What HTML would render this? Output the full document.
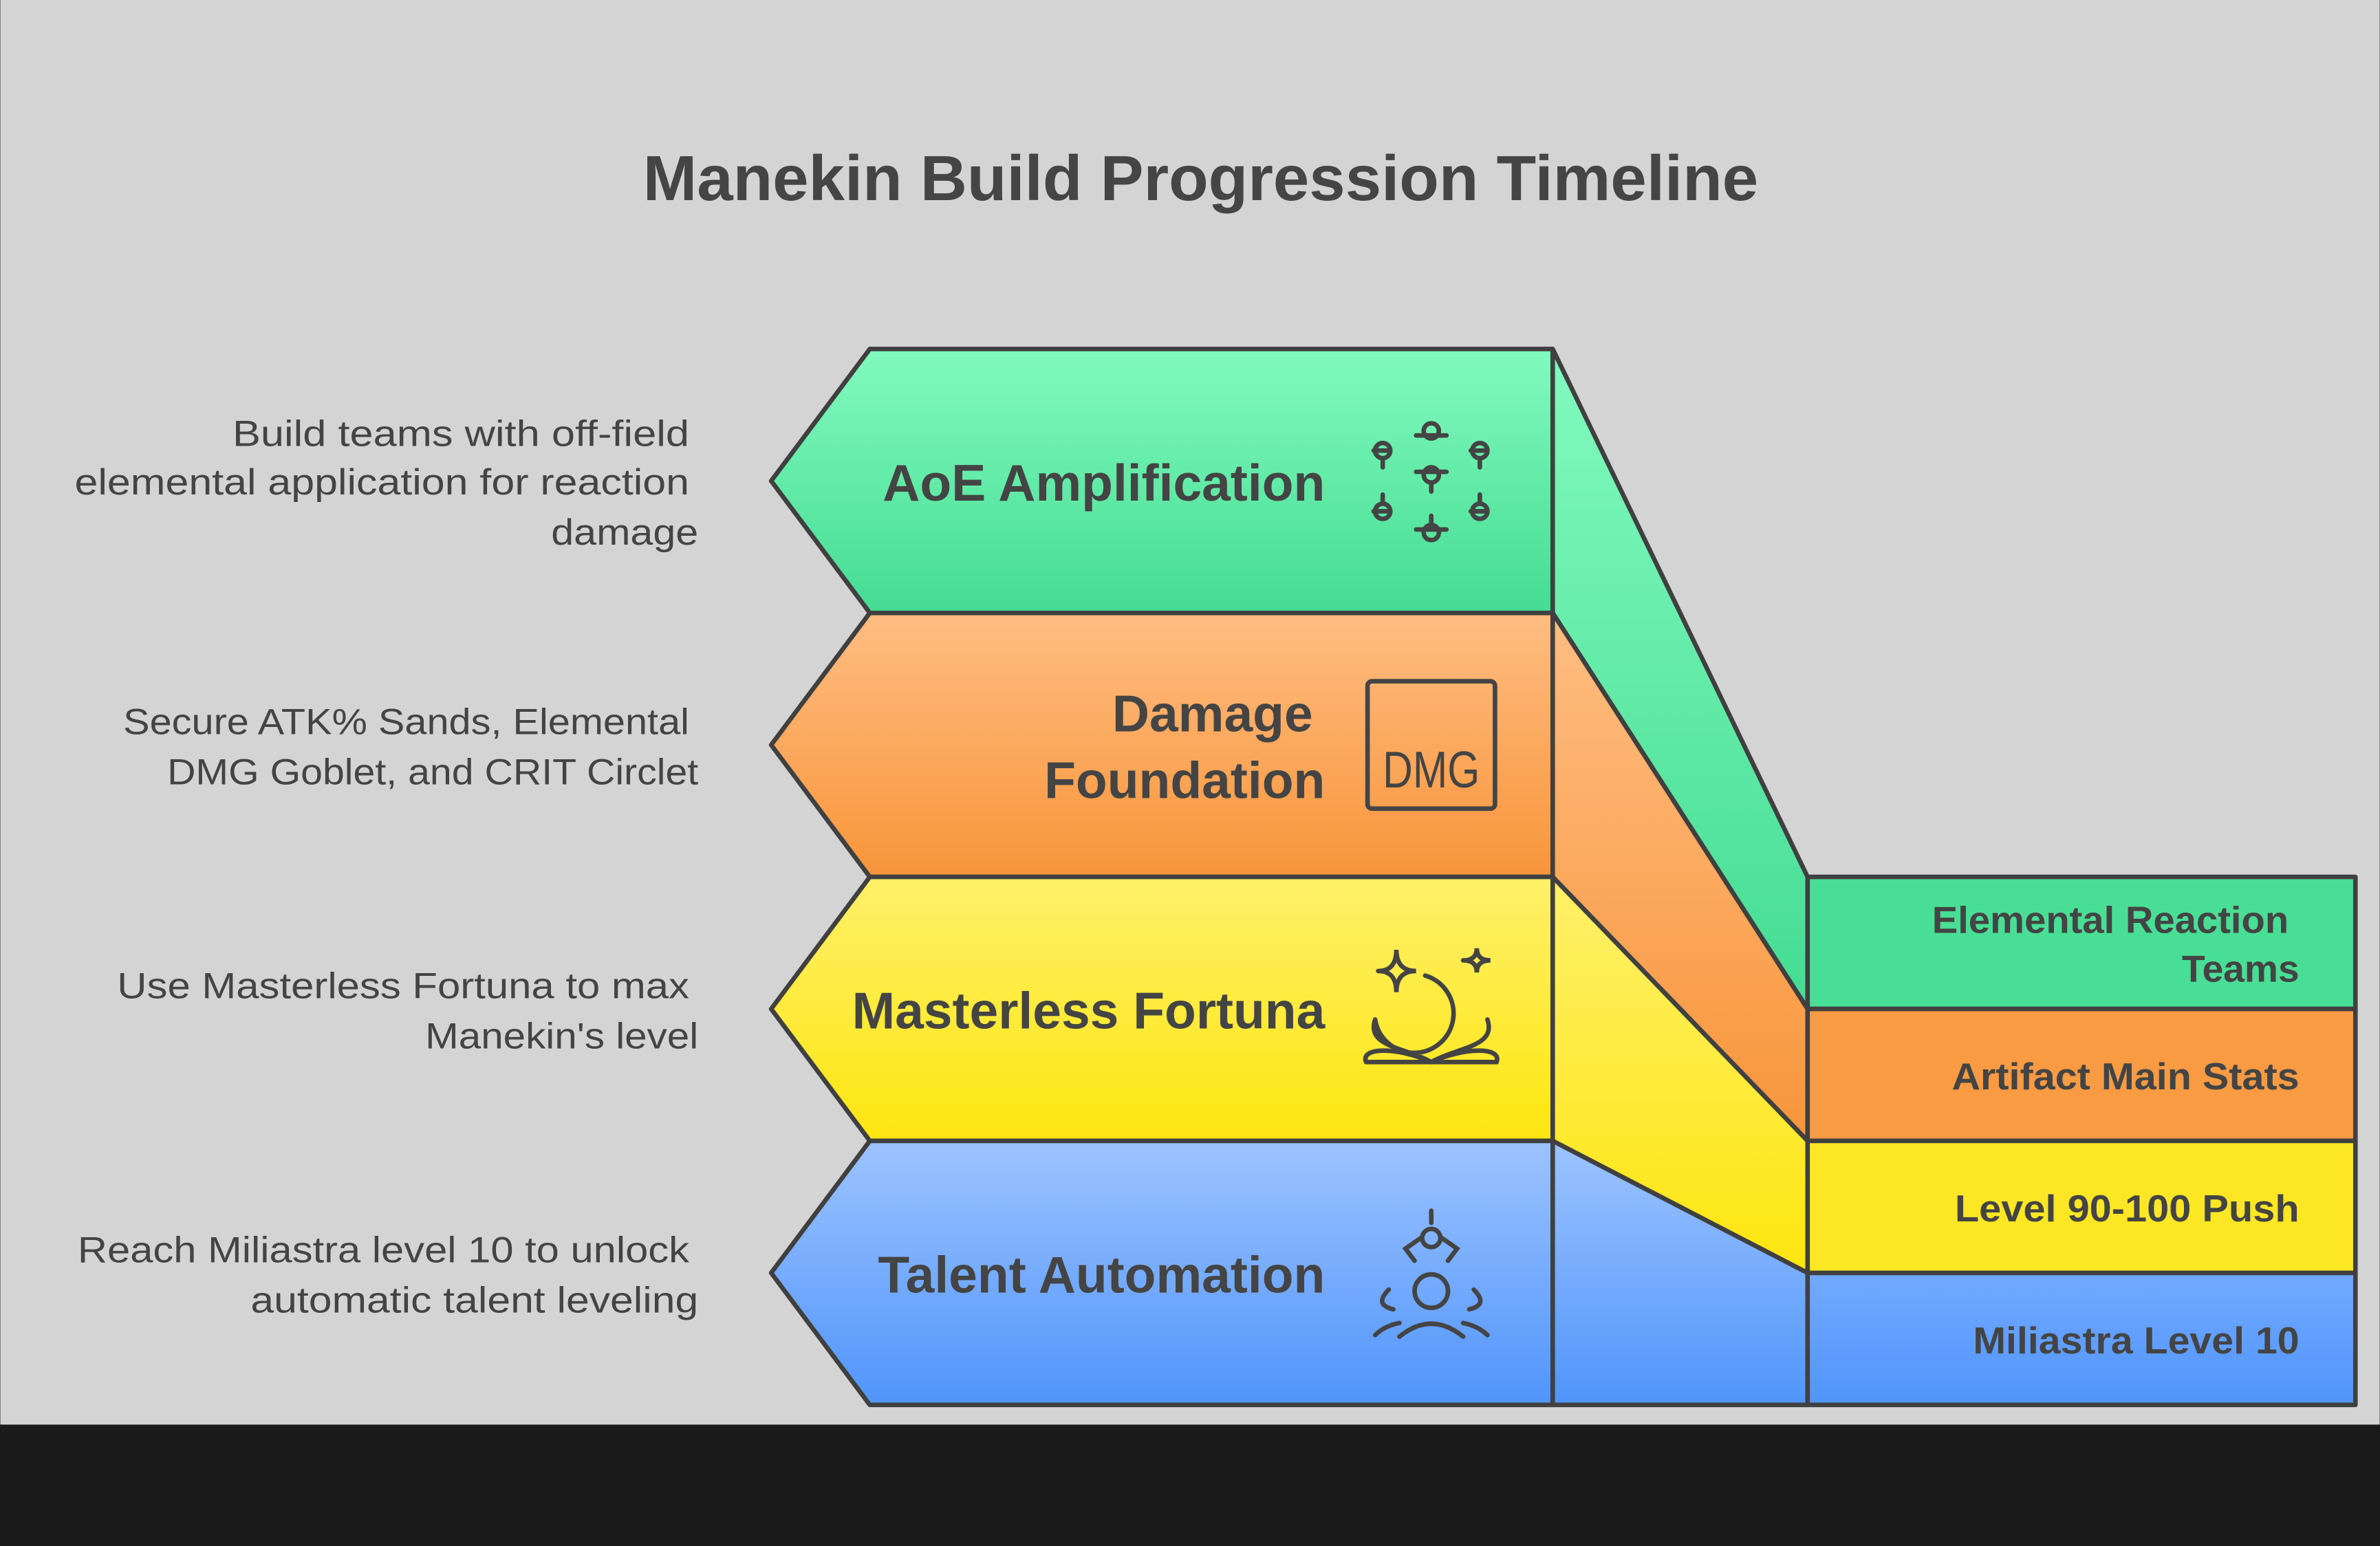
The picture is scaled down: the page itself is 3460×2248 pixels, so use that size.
<!DOCTYPE html>
<html><head><meta charset="utf-8"><style>html,body{margin:0;padding:0;background:#1a1a1a}svg{display:block}</style></head><body>
<svg width="3460" height="2248" viewBox="0 0 1568 1019" xmlns="http://www.w3.org/2000/svg" font-family="'Liberation Sans', sans-serif">
<defs>
<linearGradient id="g" x1="0" y1="0" x2="0" y2="1"><stop offset="0" stop-color="#82fabe"/><stop offset="1" stop-color="#44dc92"/></linearGradient>
<linearGradient id="o" x1="0" y1="0" x2="0" y2="1"><stop offset="0" stop-color="#ffbd82"/><stop offset="1" stop-color="#f8953a"/></linearGradient>
<linearGradient id="y" x1="0" y1="0" x2="0" y2="1"><stop offset="0" stop-color="#fff06a"/><stop offset="1" stop-color="#fde60f"/></linearGradient>
<linearGradient id="b" x1="0" y1="0" x2="0" y2="1"><stop offset="0" stop-color="#9dc3ff"/><stop offset="1" stop-color="#5095fb"/></linearGradient>
<linearGradient id="b2" x1="0" y1="0" x2="0" y2="1"><stop offset="0" stop-color="#72a9ff"/><stop offset="1" stop-color="#5095fb"/></linearGradient>
</defs>
<rect x="0" y="0" width="1568" height="939" fill="#d4d4d4"/>
<rect x="0" y="939" width="1568" height="80" fill="#1a1a1a"/>
<text x="791" y="132" text-anchor="middle" font-size="42" font-weight="bold" fill="#454545" textLength="735" lengthAdjust="spacingAndGlyphs">Manekin Build Progression Timeline</text>
<g stroke="#404040" stroke-width="3" stroke-linejoin="round">
<polygon points="1023,230 1191,578 1191,665 1023,404" fill="url(#g)"/>
<polygon points="1023,404 1191,665 1191,752 1023,578" fill="url(#o)"/>
<polygon points="1023,578 1191,752 1191,839 1023,752" fill="url(#y)"/>
<polygon points="1023,752 1191,839 1191,926 1023,926" fill="url(#b)"/>
<polygon points="573,230 1023,230 1023,404 573,404 508,317" fill="url(#g)"/>
<polygon points="573,404 1023,404 1023,578 573,578 508,491" fill="url(#o)"/>
<polygon points="573,578 1023,578 1023,752 573,752 508,665" fill="url(#y)"/>
<polygon points="573,752 1023,752 1023,926 573,926 508,839" fill="url(#b)"/>
<rect x="1191" y="578" width="361" height="87" fill="#48de95"/>
<rect x="1191" y="665" width="361" height="87" fill="#f89b43"/>
<rect x="1191" y="752" width="361" height="87" fill="#fde724"/>
<rect x="1191" y="839" width="361" height="87" fill="url(#b2)"/>
</g>
<g fill="#444" font-weight="bold" text-anchor="end">
<text x="873" y="330" font-size="34">AoE Amplification</text>
<text x="865" y="482" font-size="34">Damage</text>
<text x="873" y="526" font-size="34">Foundation</text>
<text x="873" y="678" font-size="34">Masterless Fortuna</text>
<text x="873" y="852" font-size="34">Talent Automation</text>
<text x="1508" y="615" font-size="25" textLength="235" lengthAdjust="spacingAndGlyphs">Elemental Reaction</text>
<text x="1515" y="647" font-size="25">Teams</text>
<text x="1515" y="718" font-size="25" textLength="229" lengthAdjust="spacingAndGlyphs">Artifact Main Stats</text>
<text x="1515" y="805" font-size="25" textLength="227" lengthAdjust="spacingAndGlyphs">Level 90-100 Push</text>
<text x="1515" y="892" font-size="25" textLength="215" lengthAdjust="spacingAndGlyphs">Miliastra Level 10</text>
</g>
<g fill="#444" font-size="24" text-anchor="end" lengthAdjust="spacingAndGlyphs">
<text x="454" y="294" textLength="301" lengthAdjust="spacingAndGlyphs">Build teams with off-field</text>
<text x="454" y="326" textLength="405" lengthAdjust="spacingAndGlyphs">elemental application for reaction</text>
<text x="460" y="359" textLength="97" lengthAdjust="spacingAndGlyphs">damage</text>
<text x="454" y="484" textLength="373" lengthAdjust="spacingAndGlyphs">Secure ATK% Sands, Elemental</text>
<text x="460" y="517" textLength="350" lengthAdjust="spacingAndGlyphs">DMG Goblet, and CRIT Circlet</text>
<text x="454" y="658" textLength="377" lengthAdjust="spacingAndGlyphs">Use Masterless Fortuna to max</text>
<text x="460" y="691" textLength="180" lengthAdjust="spacingAndGlyphs">Manekin's level</text>
<text x="454" y="832" textLength="403" lengthAdjust="spacingAndGlyphs">Reach Miliastra level 10 to unlock</text>
<text x="460" y="865" textLength="295" lengthAdjust="spacingAndGlyphs">automatic talent leveling</text>
</g>
<g fill="none" stroke="#444" stroke-width="3" stroke-linecap="round">
<circle cx="943" cy="284" r="5"/><path d="M933 287 L953 287"/>
<circle cx="943" cy="313" r="5"/><path d="M933 311 L953 311 M943 318 L943 324"/>
<circle cx="943" cy="351" r="5"/><path d="M933 349 L953 349 M943 340 L943 346"/>
<circle cx="911" cy="297" r="5"/><path d="M905 297 L916 297 M911 302 L911 308"/>
<circle cx="975" cy="297" r="5"/><path d="M969 297 L980 297 M975 302 L975 308"/>
<circle cx="911" cy="337" r="5"/><path d="M905 337 L916 337 M911 326 L911 332"/>
<circle cx="975" cy="337" r="5"/><path d="M969 337 L980 337 M975 326 L975 332"/>
<rect x="901" y="449" width="84" height="84" rx="3"/>
<path d="M939 643 A26 26 0 1 1 906 672 M906 672 C900 690 925 690 943 700 C961 690 986 690 980 672 M900 700 L986 700 C990 690 965 690 943 700 C921 690 896 690 900 700"/>
<path d="M908 640 Q920 640 920 626 Q920 640 933 640 Q920 640 920 654 Q920 640 908 640 M964 633 Q973 633 973 625 Q973 633 982 633 Q973 633 973 641 Q973 633 964 633"/>
<circle cx="943" cy="816" r="6"/><path d="M943 798 L943 806 M936 816 L926 823 L932 831 M950 816 L960 823 L954 831"/>
<circle cx="943" cy="851" r="11"/><path d="M922 881 Q943 864 964 881 M915 850 Q905 860 918 863 M971 850 Q981 860 968 863 M906 880 Q912 874 922 872 M980 880 Q974 874 964 872"/>
</g>
<text x="943" y="519" text-anchor="middle" font-size="34" fill="#444" textLength="64" lengthAdjust="spacingAndGlyphs">DMG</text>
</svg>
</body></html>
